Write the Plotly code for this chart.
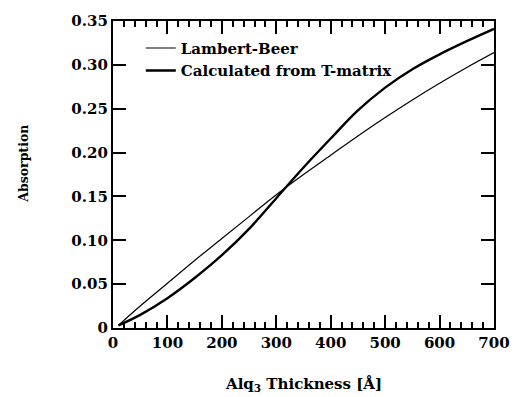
import plotly.graph_objects as go

thickness = [10, 50, 100, 150, 200, 250, 300, 350, 400, 450, 500, 550, 600, 650, 700]
lambert_beer = [0.003, 0.025, 0.051, 0.077, 0.102, 0.127, 0.152, 0.175, 0.197, 0.219, 0.240, 0.260, 0.279, 0.297, 0.314]
t_matrix = [0.003, 0.015, 0.034, 0.057, 0.083, 0.113, 0.148, 0.183, 0.216, 0.248, 0.274, 0.295, 0.312, 0.327, 0.341]

x_ticks = [0, 100, 200, 300, 400, 500, 600, 700]
x_tick_text = ["0", "100", "200", "300", "400", "500", "600", "700"]
y_ticks = [0, 0.05, 0.10, 0.15, 0.20, 0.25, 0.30, 0.35]
y_tick_text = ["0", "0.05", "0.10", "0.15", "0.20", "0.25", "0.30", "0.35"]

FONT = "DejaVu Serif"


def bold(s):
    return "<b>" + s + "</b>"


fig = go.Figure()
fig.add_trace(go.Scatter(x=thickness, y=lambert_beer, mode="lines", name=bold("Lambert-Beer"),
                         line=dict(color="black", width=1.2, shape="spline")))
fig.add_trace(go.Scatter(x=thickness, y=t_matrix, mode="lines", name=bold("Calculated from T-matrix"),
                         line=dict(color="black", width=2.4, shape="spline")))

axis_common = dict(showline=True, linewidth=2.2, linecolor="black", mirror="ticks",
                   ticks="inside", ticklen=13, tickwidth=2, tickcolor="black",
                   showgrid=False, zeroline=False)

fig.update_xaxes(range=[0, 700], tickmode="array", tickvals=x_ticks,
                 ticktext=[bold(t) for t in x_tick_text],
                 minor=dict(ticks="inside", ticklen=6, tickwidth=1.5, dtick=20, tick0=0,
                            tickcolor="black"),
                 **axis_common)
fig.update_yaxes(range=[0, 0.35], tickmode="array", tickvals=y_ticks,
                 ticktext=[bold(t) for t in y_tick_text], **axis_common)

fig.update_layout(
    width=522, height=397,
    margin=dict(l=113, r=16, t=19, b=69),
    font=dict(family=FONT, size=15, color="black"),
    paper_bgcolor="white", plot_bgcolor="white",
    showlegend=True,
    legend=dict(x=0.073, y=0.965, xanchor="left", yanchor="top", bgcolor="rgba(0,0,0,0)",
                tracegroupgap=0, itemwidth=30),
    annotations=[
        dict(text=bold("Absorption"), x=-0.237, y=0.534, xref="paper", yref="paper", textangle=-90,
             xanchor="center", yanchor="middle",
             showarrow=False, font=dict(size=12.5)),
        dict(text=bold("Alq<sub>3</sub> Thickness [Å]"), x=0.501, y=-0.184, xref="paper", yref="paper",
             xanchor="center", yanchor="middle",
             showarrow=False, font=dict(size=15)),
    ],
)

fig.write_html("out.html")
